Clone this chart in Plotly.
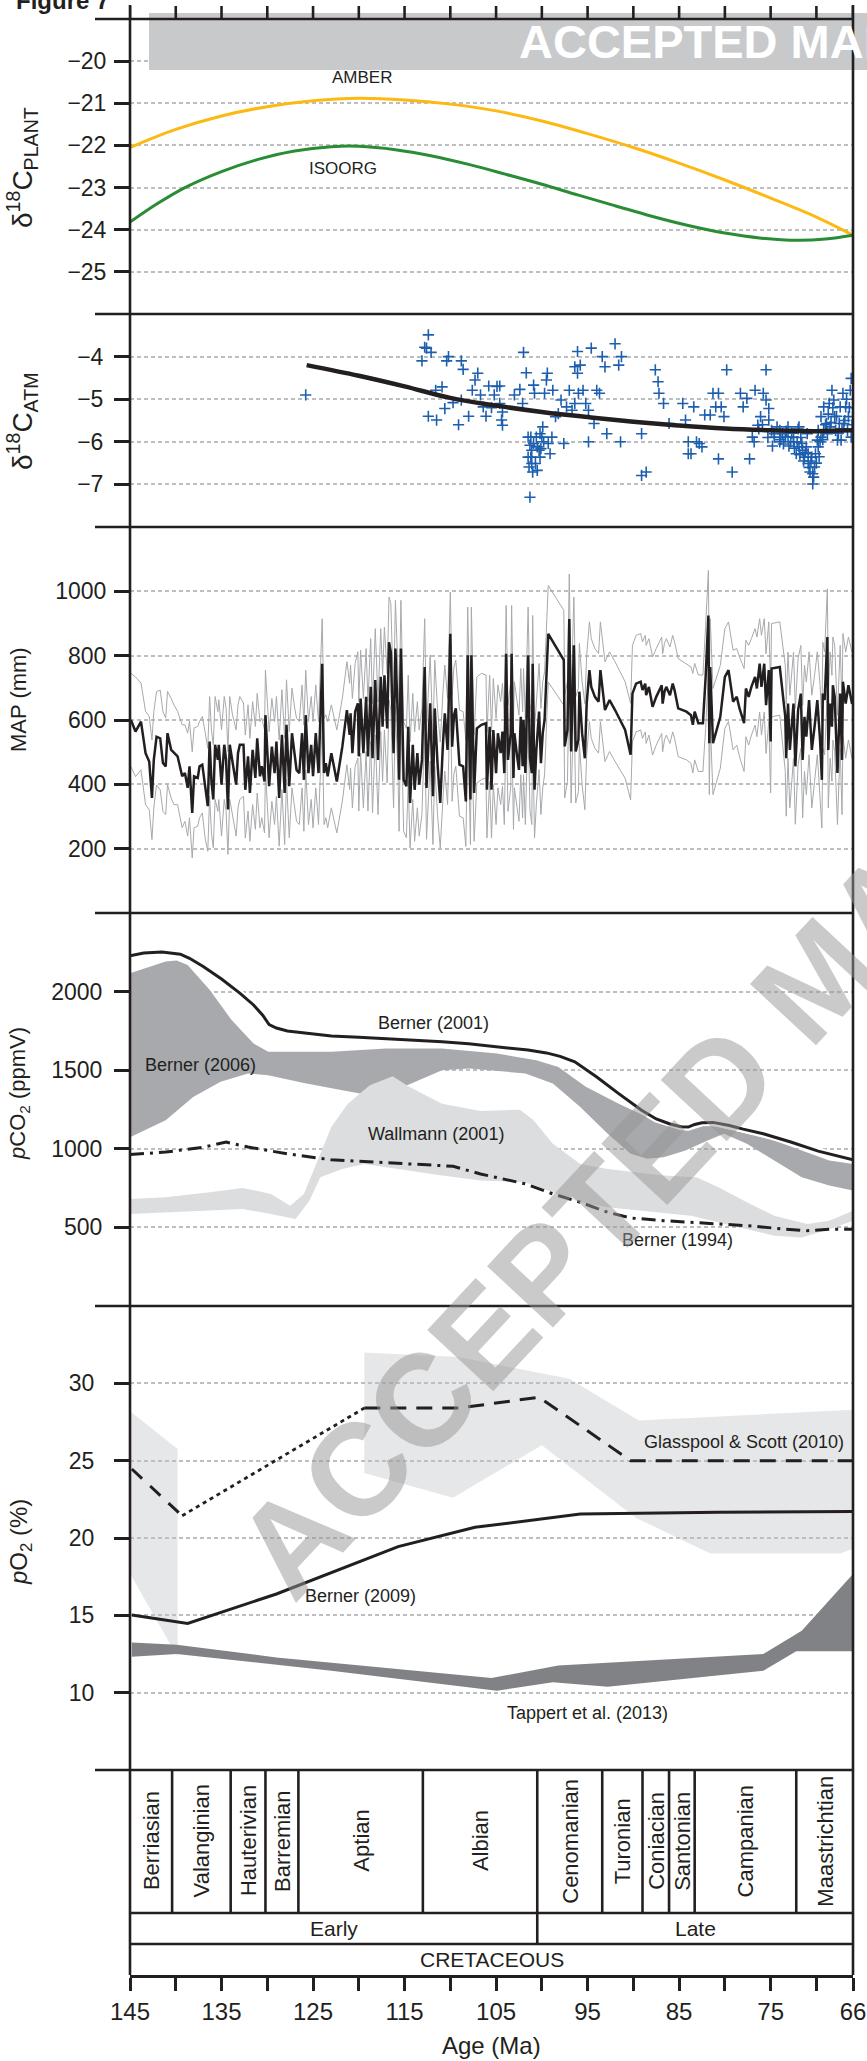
import plotly.graph_objects as go

# ---------------- data ----------------
# Panel 1: delta13C plant
AMBER_AGE = [145, 140, 135, 130, 125, 120, 115, 110, 105, 100, 95, 90, 85, 80, 75, 70, 66]
AMBER_VAL = [-22.05, -21.62, -21.3, -21.08, -20.94, -20.88, -20.92, -21.02, -21.18, -21.42, -21.72,
             -22.05, -22.42, -22.82, -23.25, -23.7, -24.13]
ISOORG_AGE = [145, 142, 139, 135, 131, 127, 123, 120, 116, 112, 108, 104, 100, 96, 92, 88, 84, 80, 76, 72, 69, 66]
ISOORG_VAL = [-23.82, -23.38, -23.0, -22.62, -22.33, -22.13, -22.03, -22.02, -22.1, -22.25, -22.45,
              -22.68, -22.92, -23.18, -23.43, -23.68, -23.9, -24.08, -24.2, -24.25, -24.22, -24.13]

# Panel 2: delta13C atmosphere
ATM_AGE = [125.8, 113.1, 112.8, 112.4, 112.6, 112.1, 111.6, 112.4, 111.5, 110.4,
           110.2, 110.9, 110.6, 108.8, 108.6, 109.1, 109.7, 108.8, 108.0, 107.6,
           107.3, 107.0, 106.7, 106.4, 106.1, 105.8, 105.5, 105.2, 104.9, 104.6,
           104.6, 104.4, 104.3, 104.3, 103.0, 102.4, 102.1, 102.0, 101.7, 101.5,
           101.3, 101.2, 101.1, 101.0, 101.3, 100.9, 100.8, 100.6, 100.5, 100.3,
           100.2, 100.0, 99.9, 99.7, 99.5, 99.4, 99.3, 99.1, 98.9, 98.8,
           98.5, 98.2, 97.9, 97.6, 97.3, 97.0, 96.7, 96.4, 96.0, 96.4,
           96.1, 95.8, 95.5, 96.1, 95.2, 94.9, 94.6, 94.9, 94.3, 94.0,
           93.7, 93.1, 93.4, 92.9, 92.0, 91.6, 91.3, 91.4, 89.1, 88.6,
           89.1, 87.6, 87.3, 87.2, 86.7, 86.1, 84.6, 84.3, 84.0, 84.0,
           83.7, 83.4, 83.1, 82.8, 82.5, 82.2, 81.6, 81.3, 81.0, 80.7,
           80.7, 80.4, 80.1, 79.8, 79.2, 78.3, 78.0, 77.6, 77.3, 77.0,
           76.7, 76.4, 76.1, 75.8, 75.5, 75.5, 75.2, 75.2, 74.9, 74.6,
           74.3, 74.0, 73.7, 73.4, 73.1, 72.8, 72.5, 72.2, 71.9, 71.6,
           71.3, 71.0, 70.9, 70.7, 70.4, 70.3, 70.1, 69.9, 69.8, 69.5,
           69.2, 68.9, 68.6, 68.3, 68.1, 68.0, 67.7, 67.5, 67.4, 67.1,
           66.8, 66.6, 66.5, 66.2, 66.2, 66.3, 71.9, 71.5, 71.1, 70.9,
           70.5, 70.2, 69.8, 69.5, 69.2, 68.8, 68.5, 67.9, 67.3, 67.0,
           74.6, 74.0, 73.1, 72.5, 101.2, 100.9, 100.7, 100.5, 100.1, 99.8,
           100.2, 101.1, 101.5, 101.4, 73.9, 73.6, 73.3, 73.0, 72.7, 72.4,
           72.1, 71.8, 71.4, 71.2, 70.8, 70.6, 70.4, 70.0, 69.7, 69.6,
           69.3, 69.0, 68.7, 68.4, 68.2, 67.8, 67.6, 67.2, 66.9, 66.7,
           66.4, 66.1, 72.0, 71.7, 75.9, 75.3, 76.3, 76.8, 74.8]
ATM_VAL = [-4.9, -4.1, -3.78, -3.49, -3.8, -3.9, -4.79, -5.4, -5.49, -4.1,
           -4.0, -4.71, -5.22, -4.1, -4.3, -5.6, -5.08, -5.02, -5.4, -4.79,
           -4.55, -4.39, -4.9, -5.18, -5.4, -4.69, -5.2, -4.9, -4.7, -4.69,
           -5.1, -5.49, -5.61, -5.3, -4.9, -4.77, -5.1, -3.9, -4.38, -5.89,
           -6.08, -6.36, -6.51, -6.71, -7.3, -4.67, -4.86, -5.89, -6.12, -6.2,
           -6.36, -5.89, -5.65, -4.86, -4.55, -4.39, -6.04, -6.28, -5.89, -4.79,
           -5.41, -5.34, -5.02, -6.04, -5.18, -4.79, -5.26, -5.1, -4.86, -4.24,
           -3.88, -4.2, -4.79, -4.39, -5.1, -5.26, -3.8, -6.0, -5.57, -4.79,
           -4.86, -4.24, -4.0, -5.81, -3.7, -4.2, -4.0, -6.0, -6.79, -6.71,
           -5.81, -4.31, -4.59, -4.86, -5.1, -5.57, -5.1, -5.49, -6.0, -6.28,
           -6.28, -5.18, -6.0, -6.04, -6.12, -5.37, -5.37, -4.86, -5.18, -4.86,
           -6.4, -5.18, -5.41, -4.31, -6.71, -4.86, -5.18, -4.98, -6.4, -5.89,
           -4.79, -5.61, -5.41, -4.86, -4.31, -5.02, -5.22, -5.49, -5.73, -5.89,
           -5.65, -6.0, -5.81, -5.89, -5.65, -6.0, -5.89, -6.28, -5.65, -6.04,
           -6.36, -5.81, -6.51, -6.71, -6.99, -6.83, -6.28, -5.96, -5.73, -5.41,
           -5.18, -5.57, -5.1, -4.79, -5.02, -5.41, -5.96, -5.57, -5.18, -4.86,
           -5.18, -5.73, -5.41, -4.51, -5.89, -4.79, -6.12, -6.2, -6.12, -6.28,
           -6.36, -6.59, -6.12, -5.89, -5.73, -5.81, -5.65, -5.73, -5.96, -5.57,
           -5.81, -5.73, -5.89, -6.0, -5.89, -6.04, -6.51, -6.67, -6.16, -6.0,
           -5.81, -6.2, -6.36, -6.59, -5.95, -6.05, -5.75, -6.1, -5.8, -6.15,
           -6.0, -6.3, -6.45, -6.25, -6.6, -6.45, -6.75, -6.5, -6.35, -6.0,
           -5.95, -5.6, -5.35, -5.55, -5.2, -5.4, -5.8, -5.7, -5.5, -5.0,
           -5.2, -5.6, -5.7, -5.9, -5.6, -5.9, -5.7, -6.0, -6.1]
ATM_FIT_AGE = [125.7, 120, 115, 110, 105, 100, 95, 90, 85, 80, 75, 70, 66]
ATM_FIT_VAL = [-4.2, -4.45, -4.7, -4.97, -5.15, -5.3, -5.42, -5.53, -5.62, -5.69, -5.73, -5.75, -5.73]

# Panel 3: mean annual precipitation
MAP_AGE = [144.9, 144.4, 143.8, 143.3, 142.9, 142.6, 142.4, 142.1, 141.7, 141.4,
           141.1, 140.9, 140.5, 140.2, 139.8, 139.3, 139.0, 138.7, 138.5, 138.2,
           138.0, 137.6, 137.4, 137.1, 136.8, 136.5, 136.3, 136.1, 135.9, 135.7,
           135.4, 135.3, 135.0, 134.7, 134.5, 134.3, 134.1, 133.8, 133.4, 133.2,
           133.0, 132.6, 132.4, 132.1, 131.9, 131.6, 131.3, 131.1, 130.8, 130.6,
           130.3, 130.2, 129.8, 129.5, 129.2, 129.0, 128.7, 128.4, 128.1, 127.9,
           127.6, 127.3, 127.0, 126.8, 126.5, 126.2, 126.0, 125.8, 125.5, 125.2,
           125.0, 124.7, 124.4, 124.2, 124.0, 123.8, 123.6, 123.4, 123.0, 122.4,
           121.8, 121.3, 121.0, 120.9, 120.7, 120.4, 120.1, 120.0, 119.8, 119.5,
           119.2, 119.0, 118.7, 118.5, 118.2, 117.9, 117.6, 117.4, 117.2, 116.9,
           116.7, 116.5, 116.2, 116.0, 115.7, 115.6, 115.4, 115.1, 114.8, 114.6,
           114.4, 114.1, 113.9, 113.6, 113.4, 113.1, 112.8, 112.6, 112.4, 112.2,
           111.9, 111.7, 111.4, 111.1, 110.8, 110.6, 110.3, 110.0, 109.8, 109.6,
           109.4, 109.2, 109.0, 108.6, 108.3, 108.1, 107.8, 107.7, 107.4, 107.1,
           106.6, 106.1, 106.0, 105.7, 105.5, 105.3, 105.0, 104.8, 104.5, 104.3,
           104.1, 103.9, 103.7, 103.4, 103.3, 103.1, 103.0, 102.7, 102.5, 102.3,
           102.1, 102.0, 101.8, 101.5, 101.3, 101.1, 101.0, 100.8, 100.6, 100.3,
           100.1, 99.9, 99.7, 99.3, 97.6, 97.5, 97.2, 97.0, 96.8, 96.5,
           96.3, 96.0, 95.9, 95.6, 95.3, 95.1, 94.8, 94.6, 94.2, 93.8,
           93.6, 93.1, 92.6, 92.0, 90.9, 90.3, 90.1, 89.7, 89.2, 89.0,
           88.7, 88.6, 88.3, 87.9, 87.5, 86.9, 86.8, 86.6, 86.4, 86.0,
           85.7, 85.5, 85.1, 84.2, 83.7, 83.5, 83.3, 82.9, 82.4, 82.1,
           81.8, 81.7, 81.6, 81.3, 80.5, 80.0, 79.6, 79.1, 78.7, 78.4,
           77.9, 77.7, 77.4, 77.1, 76.9, 76.7, 76.5, 76.2, 76.0, 75.7,
           75.5, 75.2, 75.0, 74.9, 74.0, 73.4, 73.3, 73.1, 72.9, 72.5,
           72.3, 72.0, 71.7, 71.5, 71.3, 71.1, 70.8, 70.5, 70.2, 69.9,
           69.6, 69.4, 69.3, 69.1, 68.8, 68.7, 68.5, 68.3, 68.2, 68.0,
           67.7, 67.4, 67.2, 67.1, 66.8, 66.5, 66.1]
MAP_MEAN = [600, 564, 595, 497, 471, 358, 476, 548, 543, 466,
            456, 559, 507, 497, 487, 425, 435, 389, 456, 311,
            425, 420, 456, 461, 394, 332, 533, 409, 353, 523,
            476, 523, 399, 523, 476, 322, 523, 466, 399, 497,
            523, 523, 383, 487, 373, 507, 420, 543, 425, 456,
            409, 615, 394, 517, 435, 533, 358, 554, 373, 585,
            394, 559, 487, 445, 435, 559, 414, 615, 435, 523,
            425, 559, 435, 610, 775, 435, 466, 425, 497, 409,
            517, 631, 554, 621, 497, 626, 652, 487, 667, 497,
            672, 487, 703, 481, 724, 476, 734, 579, 739, 574,
            842, 811, 497, 822, 579, 414, 822, 414, 394, 579,
            342, 523, 383, 497, 399, 476, 765, 389, 517, 652,
            363, 636, 466, 342, 528, 621, 507, 868, 517, 615,
            636, 538, 461, 456, 347, 801, 353, 801, 373, 574,
            585, 590, 383, 579, 383, 569, 435, 559, 497, 564,
            435, 806, 476, 559, 806, 420, 559, 487, 445, 610,
            456, 600, 435, 801, 481, 435, 775, 383, 507, 626,
            466, 559, 600, 868, 786, 518, 569, 914, 502, 832,
            502, 538, 688, 559, 481, 651, 755, 703, 672, 657,
            755, 631, 662, 631, 569, 492, 682, 713, 719, 693,
            713, 677, 703, 641, 672, 708, 651, 688, 703, 677,
            713, 693, 636, 626, 615, 585, 626, 590, 590, 734,
            925, 528, 765, 528, 610, 734, 755, 657, 672, 636,
            590, 698, 672, 703, 719, 734, 698, 775, 703, 775,
            646, 755, 533, 760, 765, 610, 481, 651, 507, 651,
            456, 631, 682, 476, 610, 548, 662, 507, 579, 662,
            538, 414, 682, 662, 858, 507, 651, 579, 708, 672,
            435, 682, 476, 719, 651, 708, 650]
MAP_UPPER = [745, 734, 715, 627, 611, 538, 626, 688, 693, 626,
             606, 689, 667, 647, 627, 585, 585, 559, 596, 501,
             575, 580, 596, 611, 564, 512, 673, 569, 523, 673,
             626, 663, 569, 673, 636, 502, 673, 616, 569, 647,
             673, 653, 553, 647, 543, 657, 580, 683, 595, 606,
             569, 755, 564, 667, 595, 673, 538, 694, 543, 725,
             564, 699, 637, 605, 595, 709, 584, 755, 595, 673,
             595, 709, 595, 760, 915, 605, 616, 595, 647, 569,
             667, 781, 714, 771, 667, 776, 812, 657, 817, 667,
             822, 657, 853, 651, 884, 656, 884, 739, 889, 744,
             982, 961, 667, 972, 739, 594, 972, 594, 574, 739,
             532, 683, 563, 657, 569, 636, 915, 569, 677, 802,
             543, 786, 636, 532, 688, 771, 667, 998, 677, 765,
             786, 698, 631, 626, 537, 951, 543, 951, 553, 734,
             745, 740, 563, 739, 563, 729, 605, 709, 657, 714,
             605, 956, 646, 719, 956, 600, 719, 657, 615, 760,
             626, 760, 605, 951, 651, 615, 925, 573, 667, 776,
             636, 719, 750, 1018, 941, 678, 719, 1054, 662, 982,
             672, 698, 838, 719, 651, 801, 905, 853, 822, 807,
             905, 781, 812, 781, 719, 652, 832, 863, 869, 843,
             863, 832, 853, 796, 822, 858, 806, 838, 853, 827,
             863, 843, 791, 776, 765, 745, 776, 740, 740, 894,
             1065, 688, 915, 698, 770, 884, 905, 817, 822, 796,
             760, 848, 832, 853, 869, 884, 858, 915, 863, 915,
             806, 905, 703, 900, 905, 770, 651, 811, 677, 811,
             636, 791, 832, 646, 770, 718, 812, 677, 739, 812,
             708, 594, 842, 812, 1008, 677, 811, 739, 858, 832,
             615, 832, 646, 869, 811, 858, 810]
MAP_LOWER = [455, 424, 445, 337, 321, 228, 326, 398, 383, 316,
             306, 399, 357, 337, 337, 265, 285, 239, 296, 171,
             265, 270, 296, 311, 234, 192, 363, 249, 203, 353,
             316, 353, 239, 353, 316, 182, 353, 306, 239, 327,
             353, 363, 233, 317, 223, 337, 260, 373, 265, 296,
             249, 445, 234, 347, 275, 363, 208, 384, 213, 415,
             234, 389, 317, 285, 275, 389, 254, 445, 275, 353,
             265, 389, 275, 440, 595, 275, 296, 265, 327, 249,
             347, 461, 384, 451, 327, 456, 482, 317, 497, 327,
             502, 317, 533, 311, 554, 306, 564, 409, 569, 404,
             662, 631, 327, 642, 409, 254, 642, 254, 234, 409,
             202, 353, 223, 327, 239, 306, 585, 229, 347, 472,
             213, 456, 306, 202, 358, 441, 337, 678, 347, 435,
             456, 368, 301, 296, 207, 611, 213, 611, 223, 404,
             415, 420, 233, 409, 233, 399, 275, 389, 337, 394,
             275, 616, 316, 389, 616, 260, 389, 327, 285, 430,
             296, 430, 275, 611, 321, 275, 585, 233, 337, 446,
             306, 389, 430, 718, 646, 358, 409, 754, 342, 672,
             342, 378, 528, 399, 321, 491, 595, 543, 512, 497,
             595, 471, 502, 471, 419, 352, 532, 563, 569, 543,
             563, 527, 553, 491, 522, 558, 501, 538, 553, 527,
             563, 543, 486, 476, 465, 435, 476, 440, 440, 574,
             745, 368, 595, 368, 450, 574, 595, 507, 522, 486,
             440, 548, 522, 553, 569, 584, 548, 625, 553, 625,
             496, 595, 373, 610, 615, 440, 301, 481, 327, 481,
             276, 461, 512, 296, 440, 368, 492, 327, 409, 492,
             358, 264, 512, 492, 688, 327, 481, 409, 538, 502,
             275, 512, 306, 549, 481, 538, 480]

# Panel 4: pCO2
B2001_AGE = [145, 143.5, 141.5, 139.5, 138.5, 137, 135, 133, 131.5, 130.5, 129.8, 129, 127.8, 125, 123,
             120, 117, 114, 110.9, 108, 104.9, 101.5, 99.5, 98, 96.4, 94, 91.6, 89.1, 87.5, 86, 84.8,
             84, 83.3, 82.5, 81.3, 79.5, 78, 75.8, 72.8, 69.8, 66]
B2001_VAL = [2228, 2245, 2252, 2238, 2212, 2160, 2080, 1990, 1915, 1850, 1790, 1768, 1749, 1728, 1717,
             1710, 1702, 1692, 1681, 1668, 1649, 1628, 1610, 1588, 1553, 1457, 1351, 1245, 1190, 1158, 1140,
             1138, 1155, 1165, 1168, 1148, 1125, 1096, 1043, 985, 930]
B2006_UP_AGE = [145, 141.1, 139.9, 138.7, 136.3, 133.9, 131.5, 129.9, 123.0, 117.0, 110.9, 104.9, 100.6,
                98.2, 95.2, 91.6, 88.5, 85.5, 83.1, 80.7, 77.6, 74.6, 71.6, 68.6, 66]
B2006_UP = [2117, 2191, 2198, 2170, 2011, 1819, 1670, 1617, 1617, 1638, 1638, 1606, 1564,
            1521, 1394, 1287, 1202, 1155, 1155, 1138, 1096, 1053, 989, 926, 904]
B2006_LO_AGE = [145, 141.1, 138.1, 135.1, 132.1, 129.9, 126.0, 121.8, 118.8, 115.1, 110.9, 107.9, 101.8,
                98.8, 95.8, 92.8, 90.3, 88.5, 86.7, 84.3, 81.9, 80.1, 77.6, 74.6, 71.6, 68.6, 66]
B2006_LO = [1074, 1181, 1330, 1426, 1479, 1468, 1419, 1372, 1340, 1394, 1500, 1511, 1479,
            1415, 1266, 1096, 968, 936, 947, 989, 1053, 1096, 1032, 926, 819, 766, 734]
W2001_UP_AGE = [145, 141.1, 136.3, 132.7, 129.6, 127.5, 126.0, 124.8, 123.0, 121.2, 118.8, 116.3, 114.5,
                110.9, 106.7, 102.4, 100.9, 98.8, 95.8, 92.8, 89.7, 86.7, 83.1, 80.7, 77.6, 74.6, 71.0,
                68.6, 66]
W2001_UP = [681, 691, 723, 751, 713, 638, 713, 883, 1138, 1287, 1404, 1462, 1394,
            1287, 1240, 1249, 1181, 1032, 904, 872, 851, 830, 819, 755, 660, 574, 521, 543, 606]
W2001_LO_AGE = [145, 141.1, 135.1, 132.7, 129.6, 126.9, 125.4, 124.2, 121.8, 119.4, 115.7, 110.9, 106.7,
                101.8, 98.8, 95.8, 92.8, 89.1, 83.7, 80.7, 77.6, 74.6, 71.6, 68.6, 66]
W2001_LO = [585, 596, 611, 617, 585, 553, 670, 819, 872, 904, 872, 830, 798,
            787, 723, 660, 628, 606, 574, 532, 489, 447, 436, 489, 543]
B1994_AGE = [145, 141.1, 136.9, 134.5, 132.1, 127.8, 123.0, 117.0, 109.7, 106.7, 101.8, 98.8, 95.8,
             92.8, 90.3, 86.7, 81.9, 77.6, 73.4, 71.0, 68.6, 66]
B1994_VAL = [964, 979, 1011, 1043, 1011, 968, 930, 911, 889, 840, 777, 713, 660,
             596, 560, 543, 526, 511, 489, 479, 489, 489]

# Panel 5: pO2
GS_A_UP_AGE = [145, 139.8]
GS_A_UP = [28.2, 25.75]
GS_A_LO_AGE = [145, 139.8]
GS_A_LO = [17.7, 12.3]
GS_B_UP_AGE = [119.4, 109.1, 97.0, 89.4, 66.0]
GS_B_UP = [32.0, 31.7, 30.3, 27.6, 28.3]
GS_B_LO_AGE = [119.4, 109.7, 100.0, 89.7, 81.6, 67.4, 66.0]
GS_B_LO = [24.2, 22.6, 26.0, 21.3, 19.0, 19.0, 19.3]
GS_DASH1_AGE = [144.8, 139.3]
GS_DASH1 = [24.46, 21.44]
GS_DOT_AGE = [139.3, 119.4]
GS_DOT = [21.44, 28.4]
GS_DASH2_AGE = [119.4, 109.1, 100.3, 90.3, 66.0]
GS_DASH2 = [28.4, 28.4, 29.1, 25.0, 25.0]
B2009_AGE = [144.8, 138.7, 129.0, 115.7, 107.3, 95.8, 80.7, 66.0]
B2009_VAL = [15.02, 14.48, 16.38, 19.44, 20.69, 21.55, 21.66, 21.72]
T2013_UP_AGE = [144.8, 139.9, 129.0, 105.5, 98.2, 75.8, 71.6, 66.0]
T2013_UP = [13.25, 13.1, 12.28, 10.95, 11.75, 12.5, 14.0, 17.67]
T2013_LO_AGE = [144.8, 139.9, 123.0, 104.9, 98.8, 92.8, 75.8, 72.2, 66.0]
T2013_LO = [12.33, 12.5, 11.42, 10.13, 10.67, 10.39, 11.42, 12.67, 12.67]

# Time scale
STAGES = ["Berriasian", "Valanginian", "Hauterivian", "Barremian", "Aptian", "Albian",
          "Cenomanian", "Turonian", "Coniacian", "Santonian", "Campanian", "Maastrichtian"]
STAGE_BOUNDS = [145, 140.4, 134.0, 130.2, 126.6, 113.0, 100.5, 93.4, 89.0, 86.1, 83.3, 72.2, 66]
EPOCHS = ["Early", "Late"]
EPOCH_BOUNDS = [145, 100.5, 66]
PERIOD = "CRETACEOUS"
X_TICKS = [145, 140, 135, 130, 125, 120, 115, 110, 105, 100, 95, 90, 85, 80, 75, 70, 66]
X_LABEL_TICKS = [145, 135, 125, 115, 105, 95, 85, 75, 66]
X_MINOR_TICKS = [140, 130, 120, 110, 100, 90, 80, 70]

# ---------------- layout helpers ----------------
W, H = 867, 2061
ML, MR, MT, MB = 130, 14, 19, 86
PW = W - ML - MR
PH = H - MT - MB


def fx(p):
    return (p - ML) / PW


def fy(p):
    return (H - MB - p) / PH


FONT = "Liberation Sans, Arial, Helvetica, sans-serif"
INK = "#231f20"
GRID = "#bcbec0"
BLUE = "#1d5fae"

PANELS = [(19, 314), (314, 527), (527, 913), (913, 1306), (1306, 1770), (1770, 1975)]
YRANGES = [[-26, -19], [-8, -3], [0, 1200], [0, 2500], [5, 35], [0, 1]]
YTICKS = [[-20, -21, -22, -23, -24, -25], [-4, -5, -6, -7], [200, 400, 600, 800, 1000],
          [500, 1000, 1500, 2000], [10, 15, 20, 25, 30], []]
STANDOFF = [3, 6, 3, 7, 15, 0]


def xa(i):
    return "x" if i == 1 else f"x{i}"


def ya(i):
    return "y" if i == 1 else f"y{i}"


fig = go.Figure()


def line(i, x, y, color=INK, width=2.5, dash="solid", shape="linear"):
    fig.add_trace(go.Scatter(x=x, y=y, mode="lines", xaxis=xa(i), yaxis=ya(i),
                             line=dict(color=color, width=width, dash=dash, shape=shape),
                             hoverinfo="skip", showlegend=False))


def band(i, xu, yu, xl, yl, color):
    fig.add_trace(go.Scatter(x=list(xu) + list(xl)[::-1], y=list(yu) + list(yl)[::-1],
                             mode="lines", fill="toself", fillcolor=color,
                             line=dict(width=0, color=color), xaxis=xa(i), yaxis=ya(i),
                             hoverinfo="skip", showlegend=False))


# Panel 1
line(1, AMBER_AGE, AMBER_VAL, color="#fdb913", width=3, shape="spline")
line(1, ISOORG_AGE, ISOORG_VAL, color="#2a8c34", width=3, shape="spline")

# Panel 2
fig.add_trace(go.Scatter(x=ATM_AGE, y=ATM_VAL, mode="markers", xaxis="x2", yaxis="y2",
                         marker=dict(symbol="cross-thin", size=8, line=dict(width=1.6, color=BLUE)),
                         hoverinfo="skip", showlegend=False))
line(2, ATM_FIT_AGE, ATM_FIT_VAL, color=INK, width=4.5, shape="spline")

# Panel 3
n = min(len(MAP_AGE), len(MAP_MEAN), len(MAP_UPPER), len(MAP_LOWER))
line(3, MAP_AGE[:n], MAP_UPPER[:n], color="#a7a9ac", width=1)
line(3, MAP_AGE[:n], MAP_LOWER[:n], color="#a7a9ac", width=1)
line(3, MAP_AGE[:n], MAP_MEAN[:n], color=INK, width=2.5)

# Panel 4
band(4, B2006_UP_AGE, B2006_UP, B2006_LO_AGE, B2006_LO, "#a7a9ac")
band(4, W2001_UP_AGE, W2001_UP, W2001_LO_AGE, W2001_LO, "#dcdddf")
line(4, B2001_AGE, B2001_VAL, color="white", width=7)
line(4, B2001_AGE, B2001_VAL, color=INK, width=3)
line(4, B1994_AGE, B1994_VAL, color=INK, width=3, dash="14px,6px,3px,6px")

# Panel 5
band(5, T2013_UP_AGE, T2013_UP, T2013_LO_AGE, T2013_LO, "#808285")
line(5, B2009_AGE, B2009_VAL, color=INK, width=3)
line(5, GS_DASH1_AGE, GS_DASH1, color=INK, width=3, dash="14px,11px")
line(5, GS_DOT_AGE, GS_DOT, color=INK, width=2.8, dash="4px,4px")
line(5, GS_DASH2_AGE, GS_DASH2, color=INK, width=3, dash="16px,10px")

# invisible trace for the time-scale axes
fig.add_trace(go.Scatter(x=[145, 66], y=[0, 1], mode="markers", marker=dict(opacity=0),
                         xaxis="x6", yaxis="y6", hoverinfo="skip", showlegend=False))

shapes = []


def poly_path(xu, yu, xl, yl):
    xs = list(xu) + list(xl)[::-1]
    ys = list(yu) + list(yl)[::-1]
    return "M " + " L ".join(f"{a},{b}" for a, b in zip(xs, ys)) + " Z"


# Glasspool & Scott band below the gridlines
for xu, yu, xl, yl in [(GS_A_UP_AGE, GS_A_UP, GS_A_LO_AGE, GS_A_LO),
                       (GS_B_UP_AGE, GS_B_UP, GS_B_LO_AGE, GS_B_LO)]:
    shapes.append(dict(type="path", path=poly_path(xu, yu, xl, yl), xref="x5", yref="y5",
                       fillcolor="#e6e7e8", line=dict(width=0), layer="below"))

# top banner
shapes.append(dict(type="rect", xref="paper", yref="paper", x0=fx(149), x1=fx(875),
                   y0=fy(70), y1=fy(13), fillcolor="#c8c9cb", line=dict(width=0), layer="above"))

LW = 2.6
for top, _ in PANELS:
    shapes.append(dict(type="line", xref="paper", yref="paper", x0=fx(95), x1=1, y0=fy(top), y1=fy(top),
                       line=dict(color=INK, width=LW)))
for xv in (0, 1):
    shapes.append(dict(type="line", xref="paper", yref="paper", x0=xv, x1=xv, y0=0, y1=fy(5),
                       line=dict(color=INK, width=LW)))
for t in X_TICKS:
    shapes.append(dict(type="line", xref="x", yref="paper", x0=t, x1=t, y0=fy(19), y1=fy(6),
                       line=dict(color=INK, width=LW)))
for b in STAGE_BOUNDS[1:-1]:
    shapes.append(dict(type="line", xref="x6", yref="paper", x0=b, x1=b, y0=fy(1912), y1=fy(1770),
                       line=dict(color=INK, width=LW)))
for yy in (1913, 1944):
    shapes.append(dict(type="line", xref="paper", yref="paper", x0=0, x1=1, y0=fy(yy), y1=fy(yy),
                       line=dict(color=INK, width=LW)))
shapes.append(dict(type="line", xref="x6", yref="paper", x0=EPOCH_BOUNDS[1], x1=EPOCH_BOUNDS[1],
                   y0=fy(1944), y1=fy(1913), line=dict(color=INK, width=LW)))

ann = []


def text(x, y, s, size=18, xref="paper", yref="paper", angle=0, color=INK, bold=False,
         xanchor="center", yanchor="middle", family=FONT):
    ann.append(dict(x=x, y=y, xref=xref, yref=yref, text=f"<b>{s}</b>" if bold else s,
                    showarrow=False, textangle=angle, xanchor=xanchor, yanchor=yanchor,
                    font=dict(family=family, size=size, color=color)))


for k, name in enumerate(STAGES):
    mid = (STAGE_BOUNDS[k] + STAGE_BOUNDS[k + 1]) / 2
    text(mid, fy(1841), name, size=22, xref="x6", angle=-90)
for k, name in enumerate(EPOCHS):
    mid = (EPOCH_BOUNDS[k] + EPOCH_BOUNDS[k + 1]) / 2
    text(mid, fy(1928.5), name, size=21, xref="x6")
text((STAGE_BOUNDS[0] + STAGE_BOUNDS[-1]) / 2, fy(1959.5), PERIOD, size=21, xref="x6")
text(0.5, fy(2045), "Age (Ma)", size=24)

text(fx(22), fy(168), "δ<sup>18</sup>C<sub>PLANT</sub>", size=28, angle=-90)
text(fx(22), fy(421), "δ<sup>18</sup>C<sub>ATM</sub>", size=28, angle=-90)
text(fx(18), fy(700), "MAP (mm)", size=22, angle=-90)
text(fx(19), fy(1094), "<i>p</i>CO<sub>2</sub> (ppmV)", size=22, angle=-90)
text(fx(20), fy(1542), "<i>p</i>O<sub>2</sub> (%)", size=24, angle=-90)

text(fx(362), fy(78), "AMBER", size=17)
text(fx(343), fy(168), "ISOORG", size=17)
text(fx(433), fy(1023), "Berner (2001)", size=18)
text(fx(200), fy(1065), "Berner (2006)", size=18)
text(fx(436), fy(1134), "Wallmann (2001)", size=18)
text(fx(677), fy(1240), "Berner (1994)", size=18)
text(fx(744), fy(1442), "Glasspool &amp; Scott (2010)", size=18)
text(fx(360), fy(1596), "Berner (2009)", size=18)
text(fx(587), fy(1713), "Tappert et al. (2013)", size=18)

text(fx(14), fy(0), "Figure 7", size=24, bold=True, xanchor="left")
text(fx(517), fy(42), "ACCEPTED MANUSCRIPT", size=47, bold=True, color="white", xanchor="left")
text(fx(816), fy(978), "ACCEPTED MANUSCRIPT", size=131, bold=True, color="rgba(150,150,150,0.5)",
     angle=-47)

layout = dict(width=W, height=H, margin=dict(l=ML, r=MR, t=MT, b=MB, autoexpand=False),
              paper_bgcolor="white", plot_bgcolor="white", showlegend=False,
              font=dict(family=FONT, color=INK), shapes=shapes, annotations=ann)

for i in range(1, 7):
    top, bot = PANELS[i - 1]
    xk = "xaxis" if i == 1 else f"xaxis{i}"
    yk = "yaxis" if i == 1 else f"yaxis{i}"
    xax = dict(domain=[0, 1], anchor=ya(i), range=[145, 66], showgrid=False, zeroline=False,
               showticklabels=False, ticks="", showline=False, fixedrange=True)
    if i > 1:
        xax["matches"] = "x"
    if i == 6:
        xax.update(ticks="outside", ticklen=13, tickwidth=LW, tickcolor=INK,
                   tickmode="array", tickvals=X_LABEL_TICKS,
                   ticktext=[str(v) for v in X_LABEL_TICKS],
                   minor=dict(tickmode="array", tickvals=X_MINOR_TICKS, ticks="outside", ticklen=13,
                              tickwidth=LW, tickcolor=INK, showgrid=False),
                   showticklabels=True, showline=True, linecolor=INK,
                   linewidth=LW, tickfont=dict(size=24, family=FONT, color=INK))
    layout[xk] = xax
    yax = dict(domain=[fy(bot), fy(top)], anchor=xa(i), range=YRANGES[i - 1], zeroline=False,
               showline=False, fixedrange=True)
    if YTICKS[i - 1]:
        yax.update(tickvals=YTICKS[i - 1], ticks="outside", ticklen=15, tickwidth=LW, tickcolor=INK,
                   tickfont=dict(size=23, family=FONT, color=INK), showgrid=True, gridcolor=GRID,
                   gridwidth=2, griddash="4px,3px", ticklabelstandoff=STANDOFF[i - 1])
    else:
        yax.update(showgrid=False, showticklabels=False, ticks="")
    layout[yk] = yax

fig.update_layout(**layout)
fig.write_html("out.html")
